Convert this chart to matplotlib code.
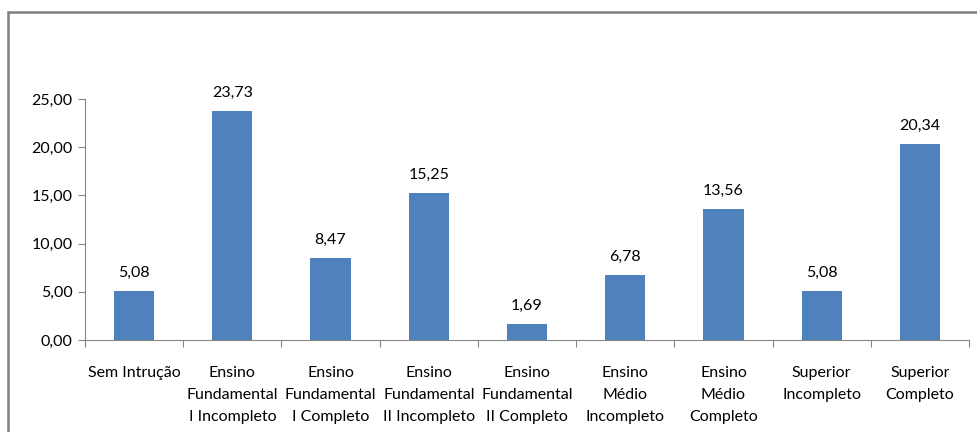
import matplotlib
matplotlib.use("Agg")
import matplotlib.pyplot as plt
from matplotlib.patches import Rectangle
import numpy as np

plt.rcParams['font.family'] = ['Lato', 'DejaVu Sans']

categories = [
    "Sem Intrução",
    "Ensino\nFundamental\nI Incompleto",
    "Ensino\nFundamental\nI Completo",
    "Ensino\nFundamental\nII Incompleto",
    "Ensino\nFundamental\nII Completo",
    "Ensino\nMédio\nIncompleto",
    "Ensino\nMédio\nCompleto",
    "Superior\nIncompleto",
    "Superior\nCompleto",
]
values = [5.08, 23.73, 8.47, 15.25, 1.69, 6.78, 13.56, 5.08, 20.34]
yticks = [0, 5, 10, 15, 20, 25]

W, H = 978, 432
fig = plt.figure(figsize=(W / 100, H / 100), dpi=100)

# plot area in pixels: x 85..969, y 99 (25) .. 340 (0)
ax = fig.add_axes([85 / W, 1 - 340 / H, (969 - 85) / W, (340 - 99) / H])

x = np.arange(len(values))
bars = ax.bar(x, values, width=0.41, color='#4F81BD', zorder=2)
for xi, v in zip(x, values):
    ax.annotate(f"{v:.2f}".replace('.', ','), (xi, v), xytext=(0, 8),
                textcoords='offset points', ha='center', va='bottom',
                fontsize=11.5, color='black')

ax.set_xlim(-0.5, len(values) - 0.5)
ax.set_ylim(0, 25)
ax.set_yticks(yticks)
ax.set_yticklabels([f"{t:.2f}".replace('.', ',') for t in yticks], fontsize=11.5)

# category ticks at the boundaries, labels centred under bars
ax.set_xticks(np.arange(-0.5, len(values)), minor=False)
ax.set_xticklabels([])
ax.set_xticks(x, minor=True)
ax.set_xticklabels(categories, minor=True, fontsize=11.5, linespacing=1.72,
                   va='top')
ax.tick_params(axis='x', which='minor', length=0, pad=19)
ax.tick_params(axis='x', which='major', length=5, color='#868686', direction='out')
ax.tick_params(axis='y', length=5, color='#868686', direction='out', pad=4)

for side in ['top', 'right']:
    ax.spines[side].set_visible(False)
ax.spines['left'].set_color('#868686')
ax.spines['bottom'].set_color('#868686')

# chart frame
frame = Rectangle((8 / W, -0.1), 1.2, 1 - 12 / H + 0.1, transform=fig.transFigure,
                  fill=False, edgecolor='#7F7F7F', linewidth=1.8)
fig.add_artist(frame)

fig.savefig("out.png", dpi=100, facecolor='white')
